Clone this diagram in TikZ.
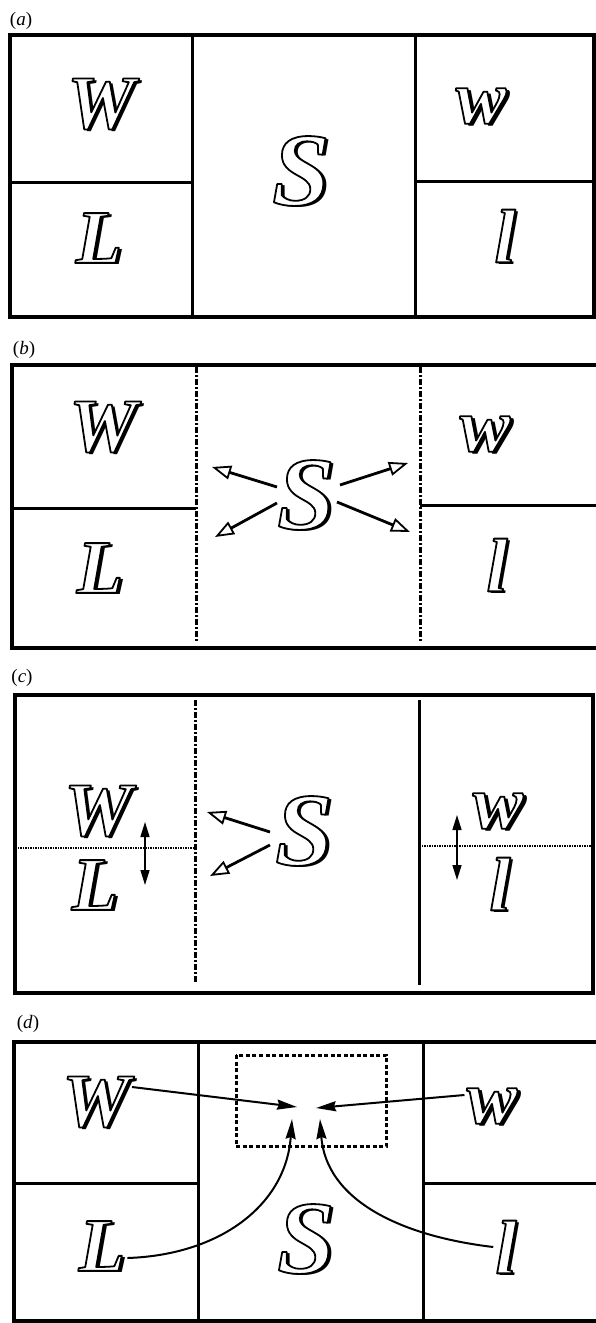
\documentclass[tikz,border=0pt]{standalone}
\usepackage{fontspec}
\setmainfont{Liberation Serif}
\usetikzlibrary{arrows.meta}
\newcommand{\outlineon}{\special{pdf:literal direct 2 Tr 1.8 w 1 j 0 G 1 g}}
\newcommand{\outlineoff}{\special{pdf:literal direct 0 Tr 0 g 0 G}}
\newcommand{\fancyglyph}[1]{\rlap{\hspace*{3.5bp}\raisebox{-2bp}{#1}}\outlineon#1\outlineoff}
\tikzset{
 frame/.style={line width=3.5bp},
 divider/.style={line width=3bp},
 dashdot/.style={line width=3bp, dash pattern=on 6bp off 2bp on 2bp off 2bp},
 fineDots/.style={line width=1.3bp, dash pattern=on 1.5bp off 1bp},
 boxDots/.style={line width=3bp, dash pattern=on 4bp off 2.5bp},
 letter/.style={inner sep=0pt, font=\fontsize{76bp}{80bp}\selectfont\bfseries\itshape},
 bigletter/.style={inner sep=0pt, font=\fontsize{104bp}{108bp}\selectfont\bfseries\itshape},
 tag/.style={inner sep=0pt, font=\fontsize{19bp}{22bp}\selectfont},
 openarrow/.style={line width=2.8bp, -{Triangle[open, length=19bp, width=14bp, line width=1.8bp]}},
 updown/.style={line width=1.5bp, {Triangle[length=15bp,width=9bp]}-{Triangle[length=15bp,width=9bp]}},
 pull/.style={line width=2bp, -{Stealth[length=20bp,width=10bp,inset=2bp]}},
}
\begin{document}
\begin{tikzpicture}[x=1bp,y=-1bp]
\useasboundingbox (0,0) rectangle (596,1323);
\clip (0,0) rectangle (596,1323);
\fill[white] (0,0) rectangle (596,1323);

% ---------------- (a)
\node[tag] (la) at (21,21) {(\textit{a})};
\draw[frame] (10,35) rectangle (594,317);
\draw[divider] (192,35) -- (192,317);
\draw[divider] (415,35) -- (415,317);
\draw[divider] (10,183) -- (192,183);
\draw[divider] (415,182) -- (594,182);
\node[letter] (aW) at (101,105) {\fancyglyph{W}};
\node[letter] (aL) at (99,239) {\fancyglyph{L}};
\node[bigletter] (aS) at (301,172) {\fancyglyph{S}};
\node[letter] (aw) at (481,107) {\fancyglyph{w}};
\node[letter] (al) at (505,237) {\fancyglyph{l}};

% ---------------- (b)
\node[tag] (lb) at (24,350) {(\textit{b})};
\draw[frame] (12,365) rectangle (602,648);
\draw[dashdot] (196,367) -- (196,642);
\draw[dashdot] (420,367) -- (420,642);
\draw[divider] (12,508) -- (196,508);
\draw[divider] (420,505) -- (602,505);
\node[letter] (bW) at (103,428) {\fancyglyph{W}};
\node[letter] (bL) at (100,569) {\fancyglyph{L}};
\node[bigletter] (bS) at (306,496) {\fancyglyph{S}};
\node[letter] (bw) at (485,435) {\fancyglyph{w}};
\node[letter] (bl) at (497,566) {\fancyglyph{l}};
\coordinate (b1t) at (277,487); \coordinate (b1h) at (212,467);
\coordinate (b2t) at (277,503); \coordinate (b2h) at (215,537);
\coordinate (b3t) at (340,485); \coordinate (b3h) at (408,463);
\coordinate (b4t) at (337,502); \coordinate (b4h) at (410,532);
\draw[openarrow] (b1t) -- (b1h);
\draw[openarrow] (b2t) -- (b2h);
\draw[openarrow] (b3t) -- (b3h);
\draw[openarrow] (b4t) -- (b4h);

% ---------------- (c)
\node[tag] (lc) at (22,678) {(\textit{c})};
\draw[frame] (15,695) rectangle (593,993);
\draw[dashdot] (195,700) -- (195,982);
\draw[divider] (419,700) -- (419,985);
\draw[fineDots] (15,848) -- (195,848);
\draw[fineDots] (419,846) -- (593,846);
\node[letter] (cW) at (98,812) {\fancyglyph{W}};
\node[letter] (cL) at (95,886) {\fancyglyph{L}};
\node[bigletter] (cS) at (304,832) {\fancyglyph{S}};
\node[letter] (cw) at (498,812) {\fancyglyph{w}};
\node[letter] (cl) at (500,885) {\fancyglyph{l}};
\coordinate (c1t) at (270,832); \coordinate (c1h) at (207,812);
\coordinate (c2t) at (270,845); \coordinate (c2h) at (210,876);
\draw[openarrow] (c1t) -- (c1h);
\draw[openarrow] (c2t) -- (c2h);
\coordinate (cLu) at (145,822); \coordinate (cLd) at (145,885);
\coordinate (cRu) at (457,815); \coordinate (cRd) at (457,880);
\draw[updown] (cLu) -- (cLd);
\draw[updown] (cRu) -- (cRd);

% ---------------- (d)
\node[tag] (ld) at (28,1024) {(\textit{d})};
\draw[frame] (14,1042) rectangle (602,1321);
\draw[divider] (198,1042) -- (198,1321);
\draw[divider] (423,1042) -- (423,1321);
\draw[divider] (14,1183) -- (198,1183);
\draw[divider] (423,1183) -- (602,1183);
\draw[boxDots] (236,1055) rectangle (386,1146);
\node[letter] (dW) at (96,1103) {\fancyglyph{W}};
\node[letter] (dL) at (102,1247) {\fancyglyph{L}};
\node[bigletter] (dS) at (306,1240) {\fancyglyph{S}};
\node[letter] (dw) at (492,1107) {\fancyglyph{w}};
\node[letter] (dl) at (506,1248) {\fancyglyph{l}};
\coordinate (dWh) at (297,1107);
\coordinate (dwh) at (316,1108);
\coordinate (dLh) at (292,1119);
\coordinate (dlh) at (320,1119);
\draw[pull] ([shift={(2,-16)}]dW.east) -- (dWh);
\draw[pull] ([shift={(-2,-12)}]dw.west) -- (dwh);
\draw[pull] ([shift={(2,11)}]dL.east) .. controls (220,1255) and (286,1205) .. (dLh);
\draw[pull] ([shift={(-2,-1)}]dl.west) .. controls (400,1236) and (326,1200) .. (dlh);
\end{tikzpicture}
\end{document}
